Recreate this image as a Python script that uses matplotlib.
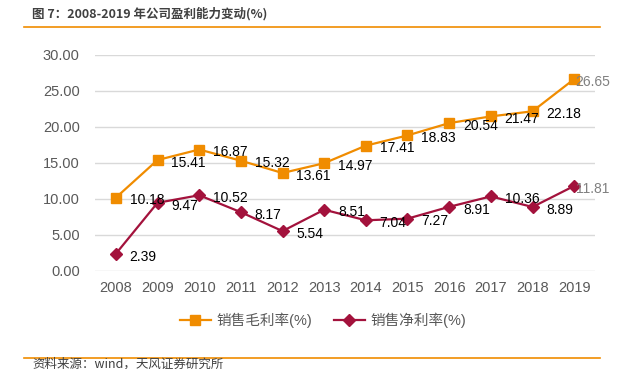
import matplotlib
matplotlib.use("Agg")
import matplotlib.pyplot as plt
from matplotlib.lines import Line2D

years = ["2008", "2009", "2010", "2011", "2012", "2013", "2014", "2015", "2016", "2017", "2018", "2019"]
gross = [10.18, 15.41, 16.87, 15.32, 13.61, 14.97, 17.41, 18.83, 20.54, 21.47, 22.18, 26.65]
net = [2.39, 9.47, 10.52, 8.17, 5.54, 8.51, 7.04, 7.27, 8.91, 10.36, 8.89, 11.81]
yticks = [0, 5, 10, 15, 20, 25, 30]

plt.rcParams['font.family'] = ['Liberation Sans', 'Noto Sans CJK SC', 'DejaVu Sans']

ORANGE = '#F08C00'
RED = '#A3123C'
GRAY = '#595959'

fig = plt.figure(figsize=(6.25, 3.69), dpi=100)
ax = fig.add_axes([0.152, 0.2656, 0.8, 0.5854])

x = list(range(len(years)))
ax.plot(x, gross, color=ORANGE, lw=1.6, marker='s', ms=7.5, label='销售毛利率(%)', zorder=3)
ax.plot(x, net, color=RED, lw=1.6, marker='D', ms=6.5, label='销售净利率(%)', zorder=3)

for series in (gross, net):
    for i, v in enumerate(series):
        last = i == len(years) - 1
        ax.annotate(f"{v:.2f}", (i, v), xytext=(1 if last else 10, -2), textcoords='offset points',
                    ha='left', va='center', fontsize=10, color='#808080' if last else 'black', zorder=4)

ax.set_xlim(-0.5, len(years) - 0.5)
ax.set_ylim(0, 30)
ax.set_yticks(yticks)
ax.set_yticklabels([f"{t:.2f}" for t in yticks])
ax.set_xticks(x)
ax.set_xticklabels(years)
ax.tick_params(axis='both', length=0, labelsize=10.5, labelcolor=GRAY)
ax.tick_params(axis='y', pad=11)
ax.tick_params(axis='x', pad=7)
ax.grid(axis='y', color='#D9D9D9', lw=1)
ax.set_axisbelow(True)
for s in ax.spines.values():
    s.set_visible(False)

handles = [Line2D([], [], color=ORANGE, lw=1.6, marker='s', ms=7.5),
           Line2D([], [], color=RED, lw=1.6, marker='D', ms=6.5)]
fig.legend(handles, ['销售毛利率(%)', '销售净利率(%)'], loc='center', bbox_to_anchor=(0.517, 1 - 320/369),
           ncol=2, frameon=False, fontsize=10.5, labelcolor=GRAY, handlelength=2.1, columnspacing=1.5,
           handletextpad=0.4)

fig.text(32/625, 1 - 14/369, "图 7：2008-2019 年公司盈利能力变动(%)", fontsize=9, color='#404040',
         fontweight='bold', ha='left', va='center', family=['Noto Sans CJK SC', 'DejaVu Sans'])
fig.add_artist(Line2D([24/625, 600/625], [1 - 27/369, 1 - 27/369], color=ORANGE, lw=1.2))
fig.add_artist(Line2D([24/625, 600/625], [1 - 358/369, 1 - 358/369], color=ORANGE, lw=1.2))
fig.text(32/625, 1 - 364/369, "资料来源：wind，天风证券研究所", fontsize=9, color='#404040',
         ha='left', va='center', family=['Noto Sans CJK SC', 'DejaVu Sans'])

fig.savefig("out.png", dpi=100)
